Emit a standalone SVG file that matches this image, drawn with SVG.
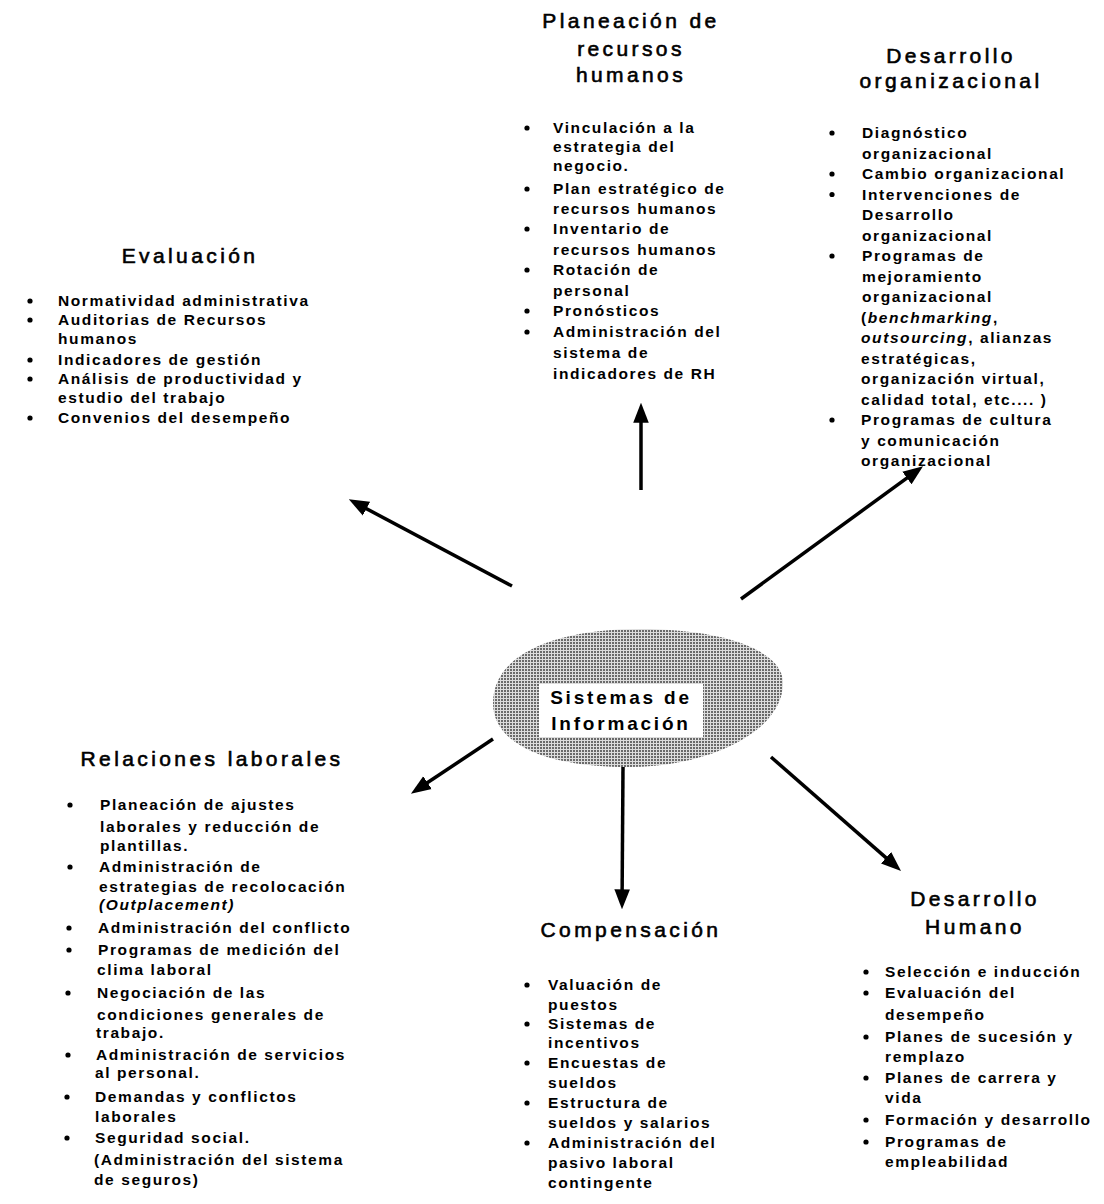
<svg xmlns="http://www.w3.org/2000/svg" width="1104" height="1204" viewBox="0 0 1104 1204">
<defs>
<style>
.t{font-family:"Liberation Sans",Arial,sans-serif;font-size:21px;letter-spacing:3.4px;text-anchor:middle;fill:#000;stroke:#000;stroke-width:0.6px}
.b{font-family:"Liberation Sans",Arial,sans-serif;font-size:15.5px;font-weight:bold;letter-spacing:1.6px;fill:#000}
.s{font-family:"Liberation Sans",Arial,sans-serif;font-size:19px;font-weight:bold;letter-spacing:2.8px;text-anchor:middle;fill:#000}
.i{font-style:italic}
.d{fill:#000}
.c{stroke:#000;stroke-width:3.5;fill:none;marker-end:url(#ah)}
</style>
<marker id="ah" markerUnits="userSpaceOnUse" markerWidth="20" markerHeight="16" viewBox="0 0 18 14" refX="6" refY="7" orient="auto">
<path d="M0,0 L18,7 L0,14 Z" fill="#000"/>
</marker>
<pattern id="dots" width="3" height="3" patternUnits="userSpaceOnUse">
<rect width="3" height="3" fill="#dcdcdc"/>
<rect width="2" height="2" fill="#6a6a6a"/>
</pattern>
</defs>
<rect width="1104" height="1204" fill="#fff"/>

<g id="connectors">
<line class="c" x1="641" y1="490" x2="641" y2="416"/>
<line class="c" x1="741" y1="599" x2="912.3" y2="474.1"/>
<line class="c" x1="512" y1="586" x2="360.6" y2="505.6"/>
<line class="c" x1="771" y1="757" x2="891" y2="862.1"/>
<line class="c" x1="493" y1="739" x2="422" y2="786.3"/>
<line class="c" x1="623" y1="767" x2="622.1" y2="896"/>
</g>

<g id="sistemas">
<path d="M493,703 C493,652 560,629 640,629 C722,629 783,650 783,683 C783,730 712,767 628,767 C548,767 493,745 493,703 Z" fill="url(#dots)"/>
<rect x="539" y="684" width="164" height="53" fill="#fff"/>
<text class="s" x="621" y="704">Sistemas de</text>
<text class="s" x="621" y="730">Información</text>
</g>

<g id="planeacion">
<text class="t" x="631" y="28">Planeación de</text>
<text class="t" x="631" y="56">recursos</text>
<text class="t" x="631" y="82">humanos</text>
<circle class="d" cx="527" cy="128" r="2.6"/>
<circle class="d" cx="527" cy="189" r="2.6"/>
<circle class="d" cx="527" cy="229" r="2.6"/>
<circle class="d" cx="527" cy="270" r="2.6"/>
<circle class="d" cx="527" cy="311" r="2.6"/>
<circle class="d" cx="527" cy="332" r="2.6"/>
<text class="b" x="553" y="133">Vinculación a la</text>
<text class="b" x="553" y="152">estrategia del</text>
<text class="b" x="553" y="171">negocio.</text>
<text class="b" x="553" y="194">Plan estratégico de</text>
<text class="b" x="553" y="214">recursos humanos</text>
<text class="b" x="553" y="234">Inventario de</text>
<text class="b" x="553" y="255">recursos humanos</text>
<text class="b" x="553" y="275">Rotación de</text>
<text class="b" x="553" y="296">personal</text>
<text class="b" x="553" y="316">Pronósticos</text>
<text class="b" x="553" y="337">Administración del</text>
<text class="b" x="553" y="358">sistema de</text>
<text class="b" x="553" y="379">indicadores de RH</text>
</g>

<g id="desarrollo-organizacional">
<text class="t" x="951" y="63">Desarrollo</text>
<text class="t" x="951" y="88">organizacional</text>
<circle class="d" cx="832" cy="133" r="2.6"/>
<circle class="d" cx="832" cy="174" r="2.6"/>
<circle class="d" cx="832" cy="194.5" r="2.6"/>
<circle class="d" cx="832" cy="256" r="2.6"/>
<circle class="d" cx="832" cy="420" r="2.6"/>
<text class="b" x="862" y="138">Diagnóstico</text>
<text class="b" x="862" y="158.5">organizacional</text>
<text class="b" x="862" y="179">Cambio organizacional</text>
<text class="b" x="862" y="199.5">Intervenciones de</text>
<text class="b" x="862" y="220">Desarrollo</text>
<text class="b" x="862" y="240.5">organizacional</text>
<text class="b" x="862" y="261">Programas de</text>
<text class="b" x="862" y="281.5">mejoramiento</text>
<text class="b" x="862" y="302">organizacional</text>
<text class="b" x="861" y="322.5">(<tspan class="i">benchmarking</tspan>,</text>
<text class="b" x="861" y="343"><tspan class="i">outsourcing</tspan>, alianzas</text>
<text class="b" x="861" y="363.5">estratégicas,</text>
<text class="b" x="861" y="384">organización virtual,</text>
<text class="b" x="861" y="404.5">calidad total, etc.... )</text>
<text class="b" x="861" y="425">Programas de cultura</text>
<text class="b" x="861" y="445.5">y comunicación</text>
<text class="b" x="861" y="466">organizacional</text>
</g>

<g id="evaluacion">
<text class="t" x="190" y="263">Evaluación</text>
<circle class="d" cx="30" cy="301" r="2.6"/>
<circle class="d" cx="30" cy="320" r="2.6"/>
<circle class="d" cx="30" cy="360" r="2.6"/>
<circle class="d" cx="30" cy="379" r="2.6"/>
<circle class="d" cx="30" cy="418" r="2.6"/>
<text class="b" x="58" y="306">Normatividad administrativa</text>
<text class="b" x="58" y="325">Auditorias de Recursos</text>
<text class="b" x="58" y="344">humanos</text>
<text class="b" x="58" y="365">Indicadores de gestión</text>
<text class="b" x="58" y="384">Análisis de productividad y</text>
<text class="b" x="58" y="403">estudio del trabajo</text>
<text class="b" x="58" y="423">Convenios del desempeño</text>
</g>

<g id="relaciones">
<text class="t" x="212" y="766">Relaciones laborales</text>
<circle class="d" cx="70" cy="805" r="2.6"/>
<circle class="d" cx="70" cy="867" r="2.6"/>
<circle class="d" cx="69" cy="928" r="2.6"/>
<circle class="d" cx="69" cy="950" r="2.6"/>
<circle class="d" cx="68" cy="993" r="2.6"/>
<circle class="d" cx="68" cy="1055" r="2.6"/>
<circle class="d" cx="67" cy="1097" r="2.6"/>
<circle class="d" cx="67" cy="1138" r="2.6"/>
<text class="b" x="100" y="810">Planeación de ajustes</text>
<text class="b" x="100" y="832">laborales y reducción de</text>
<text class="b" x="100" y="851">plantillas.</text>
<text class="b" x="99" y="872">Administración de</text>
<text class="b" x="99" y="892">estrategias de recolocación</text>
<text class="b i" x="99" y="910">(Outplacement)</text>
<text class="b" x="98" y="933">Administración del conflicto</text>
<text class="b" x="98" y="955">Programas de medición del</text>
<text class="b" x="97" y="975">clima laboral</text>
<text class="b" x="97" y="998">Negociación de las</text>
<text class="b" x="97" y="1020">condiciones generales de</text>
<text class="b" x="96" y="1038">trabajo.</text>
<text class="b" x="96" y="1060">Administración de servicios</text>
<text class="b" x="95" y="1078">al personal.</text>
<text class="b" x="95" y="1102">Demandas y conflictos</text>
<text class="b" x="95" y="1122">laborales</text>
<text class="b" x="95" y="1143">Seguridad social.</text>
<text class="b" x="94" y="1165">(Administración del sistema</text>
<text class="b" x="94" y="1185">de seguros)</text>
</g>

<g id="compensacion">
<text class="t" x="631" y="937">Compensación</text>
<circle class="d" cx="527" cy="985" r="2.6"/>
<circle class="d" cx="527" cy="1024" r="2.6"/>
<circle class="d" cx="527" cy="1063" r="2.6"/>
<circle class="d" cx="527" cy="1103" r="2.6"/>
<circle class="d" cx="527" cy="1143" r="2.6"/>
<text class="b" x="548" y="990">Valuación de</text>
<text class="b" x="548" y="1010">puestos</text>
<text class="b" x="548" y="1029">Sistemas de</text>
<text class="b" x="548" y="1048">incentivos</text>
<text class="b" x="548" y="1068">Encuestas de</text>
<text class="b" x="548" y="1088">sueldos</text>
<text class="b" x="548" y="1108">Estructura de</text>
<text class="b" x="548" y="1128">sueldos y salarios</text>
<text class="b" x="548" y="1148">Administración del</text>
<text class="b" x="548" y="1168">pasivo laboral</text>
<text class="b" x="548" y="1188">contingente</text>
</g>

<g id="desarrollo-humano">
<text class="t" x="975" y="906">Desarrollo</text>
<text class="t" x="975" y="934">Humano</text>
<circle class="d" cx="866" cy="972" r="2.6"/>
<circle class="d" cx="866" cy="993" r="2.6"/>
<circle class="d" cx="866" cy="1037" r="2.6"/>
<circle class="d" cx="866" cy="1078" r="2.6"/>
<circle class="d" cx="866" cy="1120" r="2.6"/>
<circle class="d" cx="866" cy="1142" r="2.6"/>
<text class="b" x="885" y="977">Selección e inducción</text>
<text class="b" x="885" y="998">Evaluación del</text>
<text class="b" x="885" y="1020">desempeño</text>
<text class="b" x="885" y="1042">Planes de sucesión y</text>
<text class="b" x="885" y="1062">remplazo</text>
<text class="b" x="885" y="1083">Planes de carrera y</text>
<text class="b" x="885" y="1103">vida</text>
<text class="b" x="885" y="1125">Formación y desarrollo</text>
<text class="b" x="885" y="1147">Programas de</text>
<text class="b" x="885" y="1167">empleabilidad</text>
</g>
</svg>
